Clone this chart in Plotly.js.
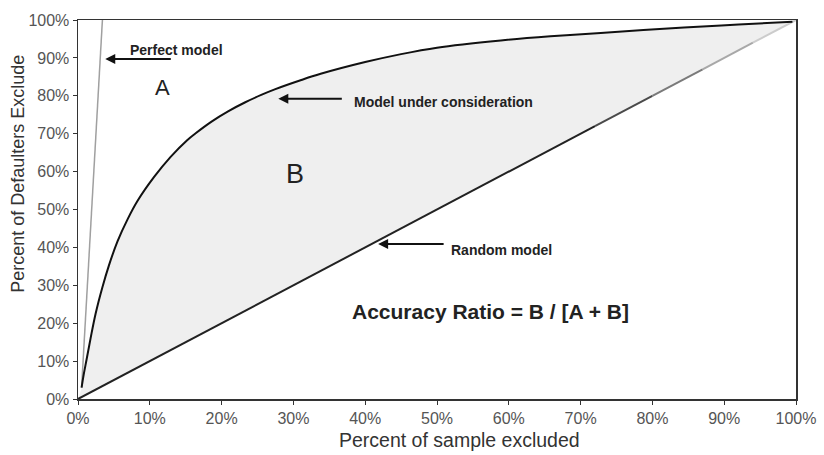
<!DOCTYPE html>
<html>
<head>
<meta charset="utf-8">
<script src="https://cdn.plot.ly/plotly-3.0.1.min.js"></script>
<style>html,body{margin:0;padding:0;background:#fff;}#chart{width:824px;height:455px;}</style>
</head>
<body>
<div id="chart"></div>
<script>
// Model under consideration (CAP curve)
var modelX = [0.5, 0.8, 1.2, 1.75, 2.45, 3.4, 4.3, 5.5, 6.9, 8.3, 10.6, 12.9, 15.2, 16.3, 18.6, 20.9, 23.3, 25.6, 27.4, 31, 33.8, 40, 45, 50, 58.9, 65.8, 72.8, 84.4, 92, 99.5];
var modelY = [3.0, 6.5, 10.5, 16.0, 22.5, 29.5, 35.2, 41.6, 47.4, 52.3, 58.6, 63.9, 68.3, 70.0, 73.2, 75.9, 78.3, 80.3, 81.7, 84.1, 85.8, 88.9, 91.0, 92.7, 94.6, 95.7, 96.6, 98.0, 98.8, 99.55];
// Perfect model
var perfectX = [0.5, 3.4];
var perfectY = [3, 100];
// Random model (diagonal), broken into pieces for the fading shade
var randomX = [0, 72, 80, 87, 94, 100];
var randomY = [0, 72, 80, 87, 94, 100];
var randomShades = ['#222222', '#4a4a4a', '#7a7a7a', '#a8a8a8', '#cccccc'];
// Tick values
var tickVals = [0, 10, 20, 30, 40, 50, 60, 70, 80, 90, 100];
var tickText = tickVals.map(function(v){ return v + '%'; });

var FAM = 'Liberation Sans, Arial, sans-serif';
var traces = [];
// shaded area B between curve and diagonal
traces.push({
  x: [randomX[0]].concat(modelX, [randomX[randomX.length-1]]),
  y: [randomY[0]].concat(modelY, [randomY[randomY.length-1]]),
  mode: 'lines', fill: 'toself', fillcolor: '#efefef',
  line: {width: 0, shape: 'spline', smoothing: 1}, hoverinfo: 'skip', showlegend: false
});
for (var i = 0; i < randomX.length - 1; i++) {
  traces.push({
    x: [randomX[i], randomX[i+1]], y: [randomY[i], randomY[i+1]],
    mode: 'lines', line: {color: randomShades[i], width: 2}, showlegend: false, hoverinfo: 'skip'
  });
}
traces.push({
  x: perfectX, y: perfectY, mode: 'lines',
  line: {color: '#a0a0a0', width: 1.5}, showlegend: false
});
traces.push({
  x: modelX, y: modelY, mode: 'lines',
  line: {color: '#111111', width: 2, shape: 'spline', smoothing: 1}, showlegend: false
});

function f(size, weight, color){ var o = {family: FAM, color: color || '#222', size: size}; if (weight) o.weight = weight; return o; }

var annotations = [
  // arrows
  {x: 3.8, y: 89.7, xref: 'x', yref: 'y', text: '', showarrow: true, ax: 67, ay: 0, arrowhead: 2, arrowsize: 1, arrowwidth: 2, arrowcolor: '#111'},
  {x: 27.9, y: 79.2, xref: 'x', yref: 'y', text: '', showarrow: true, ax: 65, ay: 0, arrowhead: 2, arrowsize: 1, arrowwidth: 2, arrowcolor: '#111'},
  {x: 41.8, y: 40.9, xref: 'x', yref: 'y', text: '', showarrow: true, ax: 67, ay: 0, arrowhead: 2, arrowsize: 1, arrowwidth: 2, arrowcolor: '#111'},
  // labels
  {x: 7.0, y: 92.1, xref: 'x', yref: 'y', text: 'Perfect model', showarrow: false, xanchor: 'left', yanchor: 'middle', font: f(14, 'bold')},
  {x: 38.2, y: 78.4, xref: 'x', yref: 'y', text: 'Model under consideration', showarrow: false, xanchor: 'left', yanchor: 'middle', font: f(14, 'bold')},
  {x: 51.7, y: 39.3, xref: 'x', yref: 'y', text: 'Random model', showarrow: false, xanchor: 'left', yanchor: 'middle', font: f(14, 'bold')},
  {x: 11.8, y: 82.3, xref: 'x', yref: 'y', text: 'A', showarrow: false, xanchor: 'center', yanchor: 'middle', font: f(22)},
  {x: 30.2, y: 59.4, xref: 'x', yref: 'y', text: 'B', showarrow: false, xanchor: 'center', yanchor: 'middle', font: f(27)},
  {x: 37.9, y: 23.2, xref: 'x', yref: 'y', text: 'Accuracy Ratio = B / [A + B]', showarrow: false, xanchor: 'left', yanchor: 'middle', font: f(21, 'bold')},
  // axis titles
  {x: 0.532, y: -0.108, xref: 'paper', yref: 'paper', text: 'Percent of sample excluded', showarrow: false, xanchor: 'center', yanchor: 'middle', font: f(19.5, null, '#333')},
  {x: -0.0836, y: 0.594, xref: 'paper', yref: 'paper', text: 'Percent of Defaulters Exclude', showarrow: false, textangle: -90, xanchor: 'center', yanchor: 'middle', font: f(18, null, '#333')}
];

var axisCommon = {
  range: [0, 100], tickvals: tickVals, ticktext: tickText,
  showgrid: false, zeroline: false, showline: true, mirror: true,
  linecolor: '#333', linewidth: 1.5, ticks: 'outside', ticklen: 4, tickcolor: '#333', tickwidth: 1,
  tickfont: {family: FAM, size: 16, color: '#555'}
};

var layout = {
  width: 824, height: 455,
  margin: {l: 78, r: 28, t: 20, b: 56},
  paper_bgcolor: '#fff', plot_bgcolor: '#fff',
  xaxis: Object.assign({}, axisCommon),
  yaxis: Object.assign({}, axisCommon),
  annotations: annotations,
  showlegend: false
};

Plotly.newPlot('chart', traces, layout, {displayModeBar: false, staticPlot: true});
</script>
</body>
</html>
